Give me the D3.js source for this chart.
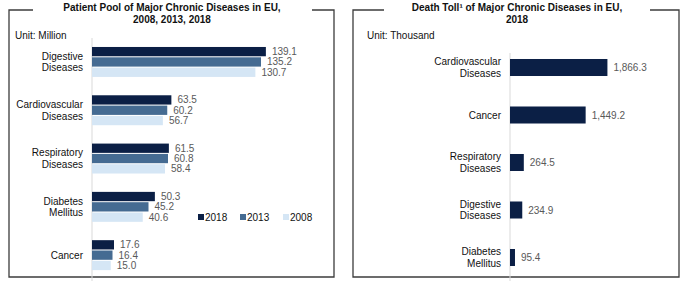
<!DOCTYPE html>
<html lang="en">
<head>
<meta charset="utf-8">
<title>Major Chronic Diseases in EU</title>
<script src="https://d3js.org/d3.v7.min.js"></script>
<style>
  body { margin: 0; background: #fff; }
  svg text { font-family: "Liberation Sans", Arial, Helvetica, sans-serif; }
</style>
</head>
<body>
<svg width="684" height="281"></svg>
<script>
    // left panel data: patient pool, million
    const poolCategories = [["Digestive", "Diseases"], ["Cardiovascular", "Diseases"], ["Respiratory", "Diseases"], ["Diabetes", "Mellitus"], ["Cancer"]];
    const poolYears = ["2018", "2013", "2008"];
    const pool2018 = [139.1, 63.5, 61.5, 50.3, 17.6];
    const pool2013 = [135.2, 60.2, 60.8, 45.2, 16.4];
    const pool2008 = [130.7, 56.7, 58.4, 40.6, 15.0];

    // right panel data: death toll, thousand
    const deathCategories = [["Cardiovascular", "Diseases"], ["Cancer"], ["Respiratory", "Diseases"], ["Digestive", "Diseases"], ["Diabetes", "Mellitus"]];
    const death2018 = [1866.3, 1449.2, 264.5, 234.9, 95.4];

    const yearColors = {"2018": "#0b1f45", "2013": "#456b92", "2008": "#d5e6f5"};
    const frameColor = "#3c3c3c";
    const valueColor = "#595959";

    var svg = d3.select("svg");

    // frame with a gap for the title
    function drawFrame(x0, x1, gapL, gapR) {
        var g = svg.append("g")
            .attr("fill", "none")
            .attr("stroke", frameColor)
            .attr("stroke-width", 1.3);
        g.append("path")
            .attr("d", "M" + gapL + ",10H" + x0 + "V277H" + x1 + "V10H" + gapR);
    }

    function drawTitle(cx, lines) {
        lines.forEach(function (l, i) {
            svg.append("text")
                .attr("x", cx)
                .attr("y", 11 + i * 12)
                .attr("text-anchor", "middle")
                .style("font-size", "10px")
                .style("font-weight", "bold")
                .style("fill", "#111")
                .text(l);
        });
    }

    function drawCatLabels(y, cats, xr, center) {
        cats.forEach(function (c, i) {
            var cy = center(i);
            c.forEach(function (line, j) {
                svg.append("text")
                    .attr("x", xr)
                    .attr("y", cy + (j - (c.length - 1) / 2) * 11.5 + 3.5)
                    .attr("text-anchor", "end")
                    .style("font-size", "10px")
                    .style("fill", "#111")
                    .text(line);
            });
        });
    }

    // ---------- left panel ----------
    drawFrame(9, 334, 33, 312);
    drawTitle(172, ["Patient Pool of Major Chronic Diseases in EU,", "2008, 2013, 2018"]);
    svg.append("text").attr("x", 15).attr("y", 39)
        .style("font-size", "10px").style("fill", "#111").text("Unit: Million");

    var xL = d3.scaleLinear().domain([0, 160]).range([92, 292]);
    var yL = d3.scaleBand().domain(d3.range(poolCategories.length))
        .range([37.8, 279.3]).paddingInner(0.38).paddingOuter(0.19);
    var yYear = d3.scaleBand().domain(poolYears).range([0, yL.bandwidth()]).paddingInner(0.1);

    svg.append("line")
        .attr("x1", xL(0)).attr("x2", xL(0))
        .attr("y1", 38).attr("y2", 281)
        .attr("stroke", "#d9d9d9").attr("stroke-width", 1);

    var poolSeries = {"2018": pool2018, "2013": pool2013, "2008": pool2008};
    poolYears.forEach(function (yr) {
        var vals = poolSeries[yr];
        svg.append("g").selectAll("rect")
            .data(vals)
            .enter().append("rect")
            .attr("x", xL(0))
            .attr("y", function (d, i) { return yL(i) + yYear(yr); })
            .attr("width", function (d) { return xL(d) - xL(0); })
            .attr("height", yYear.bandwidth())
            .attr("fill", yearColors[yr]);
        svg.append("g").selectAll("text")
            .data(vals)
            .enter().append("text")
            .attr("x", function (d) { return xL(d) + 6; })
            .attr("y", function (d, i) { return yL(i) + yYear(yr) + yYear.bandwidth() / 2 + 3.5; })
            .style("font-size", "10px")
            .style("fill", valueColor)
            .text(function (d) { return d.toFixed(1); });
    });

    drawCatLabels(yL, poolCategories, 83, function (i) { return yL(i) + yL.bandwidth() / 2; });

    // legend
    var legendX = [198, 240, 283];
    poolYears.forEach(function (yr, i) {
        svg.append("rect")
            .attr("x", legendX[i]).attr("y", 214)
            .attr("width", 6).attr("height", 6)
            .attr("fill", yearColors[yr]);
        svg.append("text")
            .attr("x", legendX[i] + 7).attr("y", 220.5)
            .style("font-size", "10px").style("fill", "#111")
            .text(yr);
    });

    // ---------- right panel ----------
    drawFrame(353, 679, 384, 650);
    drawTitle(517, ["Death Toll\u00b9 of Major Chronic Diseases in EU,", "2018"]);
    svg.append("text").attr("x", 367).attr("y", 39)
        .style("font-size", "10px").style("fill", "#111").text("Unit: Thousand");

    var xR = d3.scaleLinear().domain([0, 3000]).range([510, 666.6]);
    var yR = d3.scaleBand().domain(d3.range(deathCategories.length))
        .range([43.75, 281.25]).paddingInner(0.642).paddingOuter(0.321);

    svg.append("line")
        .attr("x1", xR(0)).attr("x2", xR(0))
        .attr("y1", 53).attr("y2", 281)
        .attr("stroke", "#d9d9d9").attr("stroke-width", 1);

    svg.append("g").selectAll("rect")
        .data(death2018)
        .enter().append("rect")
        .attr("x", xR(0))
        .attr("y", function (d, i) { return yR(i); })
        .attr("width", function (d) { return xR(d) - xR(0); })
        .attr("height", yR.bandwidth())
        .attr("fill", yearColors["2018"]);

    var fmt = d3.format(",.1f");
    svg.append("g").selectAll("text")
        .data(death2018)
        .enter().append("text")
        .attr("x", function (d) { return xR(d) + 6; })
        .attr("y", function (d, i) { return yR(i) + yR.bandwidth() / 2 + 3.5; })
        .style("font-size", "10px")
        .style("fill", valueColor)
        .text(function (d) { return fmt(d); });

    drawCatLabels(yR, deathCategories, 501, function (i) { return yR(i) + yR.bandwidth() / 2; });
</script>
</body>
</html>
